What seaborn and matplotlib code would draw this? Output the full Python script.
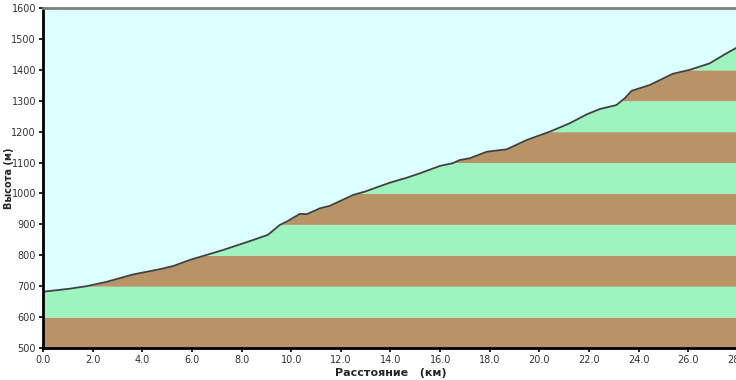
import numpy as np
import pandas as pd
import seaborn as sns
import matplotlib.pyplot as plt

# profile (km, metres)
distance_km = [0.0, 1.09, 1.76, 2.56, 3.63, 4.71, 5.24, 5.92, 7.25, 8.34, 9.06,
               9.54, 9.82, 10.35, 10.63, 11.16, 11.56, 12.49, 12.97, 13.98, 14.66,
               15.18, 15.99, 16.51, 16.79, 17.2, 17.88, 18.69, 19.49, 20.42, 21.22,
               21.91, 22.43, 23.1, 23.44, 23.71, 24.45, 25.37, 26.06, 26.86, 27.55,
               27.91, 28.0]
elevation_m = [682, 692, 700, 714, 738, 755, 765, 785, 817, 846, 866,
               898, 909, 934, 933, 952, 960, 995, 1006, 1035, 1051,
               1065, 1089, 1098, 1108, 1114, 1135, 1143, 1173, 1200, 1227,
               1256, 1273, 1286, 1308, 1332, 1351, 1387, 1400, 1421, 1454,
               1470, 1473]

band_edges = list(range(500, 1600, 100))
band_colors = ["#b89368", "#9ef4be"]
x_ticks = np.arange(0, 30, 2)
y_ticks = np.arange(500, 1700, 100)

df = pd.DataFrame({"km": distance_km, "m": elevation_m})

sns.set_style("white")
plt.rcParams["font.family"] = ["DejaVu Sans"]

fig = plt.figure(figsize=(7.36, 3.8), dpi=100)
ax = fig.add_axes([43 / 736, 32 / 380, 695 / 736, 340 / 380])
ax.set_facecolor("#dcffff")

# dense grid so the bands follow the profile exactly
xs = np.linspace(0, 28, 2000)
ys = np.interp(xs, df["km"], df["m"])
for i, lo in enumerate(band_edges):
    hi = lo + 100
    top = np.clip(ys, lo, hi)
    ax.fill_between(xs, lo, top, where=ys > lo, color=band_colors[i % 2],
                    linewidth=0)

sns.lineplot(data=df, x="km", y="m", ax=ax, color="#404040", linewidth=1.3)

ax.set_xlim(0, 28)
ax.set_ylim(500, 1600)
ax.set_xticks(x_ticks)
ax.set_xticklabels([f"{v:.1f}" for v in x_ticks], fontsize=7, color="#333333")
ax.set_yticks(y_ticks)
ax.set_yticklabels([str(v) for v in y_ticks], fontsize=7, color="#333333")
ax.tick_params(axis="both", direction="out", length=3, width=1.2, color="black",
               pad=2, bottom=True, left=True)

for side in ["left", "bottom"]:
    ax.spines[side].set_color("black")
    ax.spines[side].set_linewidth(2)
ax.spines["top"].set_color("#808080")
ax.spines["top"].set_linewidth(2)
ax.spines["right"].set_visible(False)

ax.set_xlabel("Расстояние   (км)", fontsize=8, fontweight="bold", labelpad=2)
ax.set_ylabel("Высота (м)", fontsize=7, fontweight="bold")
ax.yaxis.set_label_coords(-29 / 695, 0.5)

fig.savefig("out.png", dpi=100)
